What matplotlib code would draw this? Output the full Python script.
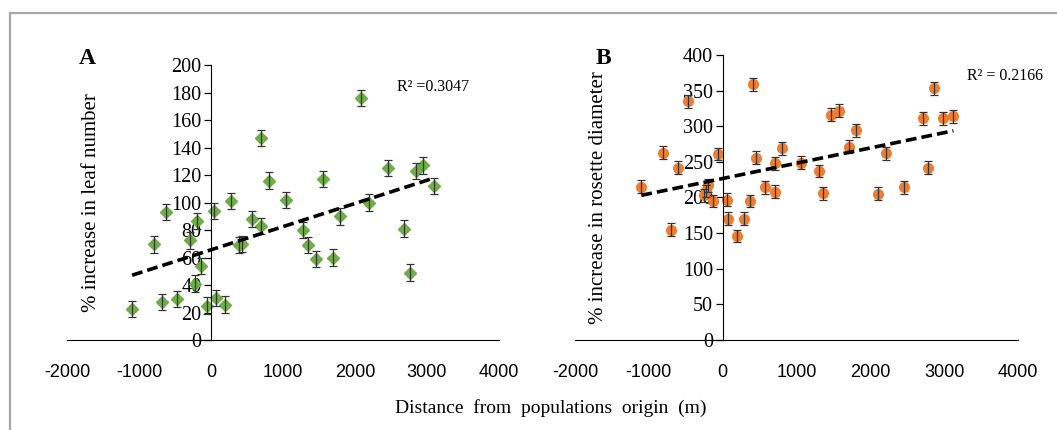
import numpy as np
import matplotlib.pyplot as plt
from matplotlib.patches import Rectangle

plt.rcParams["axes.unicode_minus"] = False

# Panel A: % increase in leaf number
dist_a = [-1096, -795, -687, -621, -466, -296, -193, -216, -141, -52, 42, 66, 198, 282,
          386, 424, 574, 692, 696, 800, 1040, 1280, 1346, 1454, 1562, 1694, 1788, 2089,
          2198, 2452, 2687, 2762, 2842, 2951, 3101]
leaf = [22.6, 69.5, 27.5, 93, 30, 72.4, 86.5, 41, 54, 25, 94, 30.6, 25.8, 101,
        69, 70, 88, 147, 83, 116, 102, 80, 69, 59, 117, 60, 90, 176,
        100, 125, 81, 49, 123, 127, 112]
err_a = 6

# Panel B: % increase in rosette diameter
dist_b = [-1102, -805, -702, -609, -465, -205, -228, -250, -135, -65, 56, 70, 195, 293,
          367, 405, 451, 567, 702, 702, 809, 1060, 1298, 1363, 1465, 1572, 1716, 1809,
          2107, 2214, 2456, 2712, 2777, 2856, 2986, 3126]
rosette = [215, 263, 155, 242, 335, 217, 209, 203, 195, 261, 197, 170, 146, 170,
           195, 359, 256, 214, 248, 208, 269, 249, 237, 206, 316, 322, 271, 294,
           205, 262, 214, 311, 242, 353, 311, 314]
err_b = 9

r2_a = "R\u00b2 =0.3047"
r2_b = "R\u00b2 = 0.2166"

serif = "Liberation Serif"
sans = "Liberation Sans"

fig = plt.figure(figsize=(10.57, 4.30), dpi=100)
fig.patches.append(Rectangle((10 / 1057, -0.2), 1.2, 1.2 - 13 / 430, transform=fig.transFigure,
                             fill=False, edgecolor="#a6a6a6", linewidth=1.6))

def panel(rect, x, y, err, color, marker, msize, ylim, step, ylabel, letter, letter_xy,
          r2, r2x, lblx):
    ax = fig.add_axes(rect)
    ax.errorbar(x, y, yerr=err, fmt="none", ecolor="#333333", elinewidth=0.9,
                capsize=3, capthick=0.9, zorder=3)
    ax.plot(x, y, linestyle="none", marker=marker, color=color, markersize=msize, zorder=2)
    k, b = np.polyfit(x, y, 1)
    xs = np.array([min(x), max(x)])
    ax.plot(xs, k * xs + b, color="black", linestyle=(0, (3, 1.4)), linewidth=2.6, zorder=4)
    ax.set_xlim(-2000, 4000)
    ax.set_ylim(0, ylim)
    ax.spines["left"].set_position(("data", 0))
    ax.spines["top"].set_visible(False)
    ax.spines["right"].set_visible(False)
    ax.set_xticks(range(-2000, 4001, 1000))
    ax.set_yticks(range(0, ylim + 1, step))
    ax.tick_params(axis="x", length=0, pad=17, labelsize=13)
    ax.tick_params(axis="y", length=5, width=0.9, pad=2, labelsize=14.5)
    for t in ax.get_xticklabels():
        t.set_fontfamily(sans)
    for t in ax.get_yticklabels():
        t.set_fontfamily(serif)
    ax.set_ylabel(ylabel, fontfamily=serif, fontsize=15)
    ax.yaxis.set_label_coords(lblx, 0.5)
    ax.text(letter_xy[0], letter_xy[1], letter, transform=ax.transAxes,
            fontfamily=serif, fontsize=17, fontweight="bold", ha="center", va="center")
    ax.text(r2x, 0.92 if letter == "A" else 0.925, r2, transform=ax.transAxes,
            fontfamily=serif, fontsize=11.5, ha="left", va="center")
    return ax

panel([0.0634, 0.2093, 0.4087, 0.6395], dist_a, leaf, err_a, "#70ad47", "D", 6.5, 200, 20,
      "% increase in leaf number", "A", (0.046, 1.025), r2_a, 0.765, 0.079)
panel([0.544, 0.2093, 0.4191, 0.663], dist_b, rosette, err_b, "#ed7d31", "o", 7, 400, 50,
      "% increase in rosette diameter", "B", (0.065, 0.989), r2_b, 0.886, 0.0745)

fig.text(551 / 1057, 1 - 408 / 430, "Distance  from  populations  origin  (m)",
         fontfamily=serif, fontsize=14, ha="center", va="center")

fig.savefig("out.png", dpi=100)
